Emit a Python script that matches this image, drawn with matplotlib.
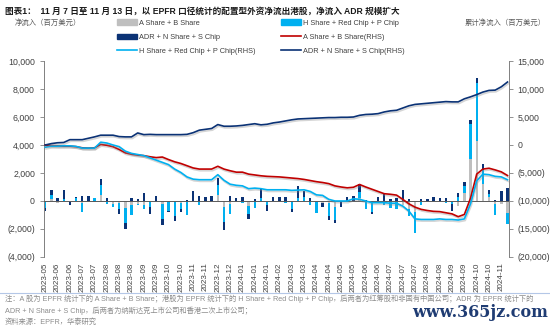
import numpy as np
import matplotlib.pyplot as plt
from matplotlib import patheffects as pe
from matplotlib.patches import Patch
from matplotlib.lines import Line2D

plt.rcParams['font.family'] = ['Liberation Sans', 'Noto Sans CJK SC']

# weekly tick labels (every second week is labelled)
labels = ['2023-05', '2023-06', '2023-06', '2023-07', '2023-07', '2023-08', '2023-08',
          '2023-08', '2023-09', '2023-09', '2023-10', '2023-10', '2023-11', '2023-11',
          '2023-12', '2023-12', '2024-01', '2024-01', '2024-01', '2024-02', '2024-03',
          '2024-03', '2024-04', '2024-04', '2024-05', '2024-05', '2024-06', '2024-06',
          '2024-07', '2024-07', '2024-07', '2024-08', '2024-08', '2024-09', '2024-09',
          '2024-10', '2024-10', '2024-11']

# weekly net flows, USD mn
a_flow = [-50, 150, -150, 0, -50, 0, -150, -50, 0, 450,
          0, -200, -150, -500, -300, -200, -300, -100, 0, -250,
          -100, -100, -150, -100, 0, 0, -50, 0, 450, -450,
          -250, -100, 0, -350, 0, 0, -100, 0, -50, 0,
          -100, 0, -100, 0, -100, -150, -150, -400, 0, 0,
          0, 200, -100, -100, 0, -100, -100, -100, -300, -600,
          -800, -100, -100, 0, -50, 0, -100, -350, 600, 3000,
          4300, 1200, 300, -240, -240, -830]
h_flow = [-450, 250, 0, 150, 0, 200, -650, 0, 200, 700,
          -250, -200, -450, -1100, -700, -100, -300, -350, -100, -1050,
          -600, -1000, -450, -900, 0, -300, 0, 0, 700, -1050,
          -650, 0, -150, -600, -500, 200, -200, 0, 0, -150,
          -500, 200, 300, -300, -750, 0, -900, -950, 0, 0,
          0, 450, -500, -700, 0, -200, -400, -500, 0, -500,
          -1500, -200, 0, 0, 0, -150, -150, 300, 470, 2500,
          4150, 1000, 200, -790, 0, -830]
adr_flow = [-250, 420, 200, 650, -250, 50, 350, 380, -100, 430,
            200, -50, -300, -430, 180, 150, 600, -450, 350, -450,
            -100, -300, -200, 100, 700, 350, 300, 330, 480, -550,
            380, 200, 300, -350, 150, 700, -400, 300, 250, 250,
            -200, 850, 400, 200, 0, -300, -300, -250, -400, 250,
            350, 550, 100, -100, 250, 500, 150, 200, 800, 150,
            0, 150, 150, 300, 200, 200, -500, 300, 290, 300,
            350, 430, 280, 100, 700, 900]

# cumulative net flows, USD mn (RHS)
a_cum = [0, -100, -150, -200, -200, -300, -500, -550, -500, 100,
         -50, -300, -800, -1400, -1650, -1800, -1900, -2100, -2250, -2150,
         -2600, -3000, -3300, -3700, -4100, -4300, -4300, -4300, -3800, -4300,
         -4600, -4850, -4850, -5200, -5350, -5500, -5600, -5650, -5700, -5800,
         -5900, -6000, -6150, -6350, -6550, -6700, -6900, -7300, -7500, -7650,
         -7550, -7050, -7500, -7900, -8300, -8700, -8800, -8950, -9700, -10500,
         -11100, -11500, -11700, -11850, -11900, -12100, -12300, -12800, -12400, -9500,
         -5200, -4300, -4150, -4450, -4800, -5450]
h_cum = [-400, -200, -200, -150, -150, -250, -550, -550, -550, 500,
         350, 0, -300, -1100, -1500, -1700, -1900, -2300, -2700, -3100,
         -3500, -4300, -4900, -5700, -6100, -6200, -6200, -6200, -5300, -6300,
         -7000, -7200, -7300, -7800, -7700, -7800, -8000, -8000, -8000, -8000,
         -8100, -8050, -8000, -8300, -8900, -9000, -9700, -10000, -10000, -10000,
         -9600, -9700, -10000, -10300, -10300, -10300, -10400, -10400, -10900, -11800,
         -13200, -13300, -13300, -13300, -13200, -13300, -13300, -13400, -13200, -10500,
         -6400, -5200, -5300, -5600, -5700, -6200]
adr_cum = [0, 250, 400, 450, 950, 950, 950, 1200, 1450, 1750,
           1750, 1750, 1500, 1450, 1450, 2150, 1850, 1900, 1850, 1850,
           1850, 1850, 1850, 1900, 2200, 2650, 2800, 2950, 3650, 3350,
           3350, 3400, 3500, 3650, 3800, 3600, 3700, 3950, 4100, 4300,
           4500, 4650, 4700, 4750, 4800, 4850, 4900, 4900, 4950, 4950,
           5000, 5300, 5450, 5500, 5600, 5900, 6100, 6200, 6600, 7000,
           7250, 7350, 7450, 7550, 7650, 7750, 7700, 7700, 8250, 8600,
           9000, 9450, 9750, 9800, 10400, 11250]

grey = '#BFBFBF'
cyan = '#00B0F0'
navy = '#0B3275'
red = '#C00000'
txt = '#404040'

fig = plt.figure(figsize=(5.5, 3.28), dpi=100)
ax = fig.add_axes([0.08, 0.2165, 0.845, 0.5975])
ax2 = ax.twinx()

x = np.arange(len(a_flow))
pos_base = np.zeros(len(x))
neg_base = np.zeros(len(x))
for vals, col in [(a_flow, grey), (h_flow, cyan), (adr_flow, navy)]:
    v = np.array(vals, dtype=float)
    base = np.where(v >= 0, pos_base, neg_base)
    ax.bar(x, v, bottom=base, width=0.38, color=col, zorder=2)
    pos_base += np.clip(v, 0, None)
    neg_base += np.clip(v, None, 0)

ax.axhline(0, color='#595959', lw=0.7, zorder=3)

shadow = [pe.SimpleLineShadow(offset=(0.6, -1.2), shadow_color='#888888', alpha=0.35),
          pe.Normal()]
for vals, col in [(a_cum, red), (h_cum, cyan), (adr_cum, navy)]:
    ax2.plot(x, vals, color=col, lw=1.2, path_effects=shadow, zorder=4)

ax.set_xlim(-0.2, 75.2)
ax.set_ylim(-4000, 10000)
ax2.set_ylim(-20000, 15000)
ax.set_yticks(np.arange(-4000, 10001, 2000))
ax2.set_yticks(np.arange(-20000, 15001, 5000))


def fmt(v, pos=None):
    return f'({abs(v):,.0f})' if v < 0 else f'{v:,.0f}'


ax.yaxis.set_major_formatter(plt.FuncFormatter(fmt))
ax2.yaxis.set_major_formatter(plt.FuncFormatter(fmt))

ax.set_xticks(x[::2][:len(labels)])
ax.set_xticklabels(labels, rotation=90, fontsize=5.8, color=txt)
ax.tick_params(axis='x', length=0, pad=4)
ax.tick_params(axis='y', labelsize=6.3, colors=txt, length=3, width=0.6, color='#808080')
ax2.tick_params(axis='y', labelsize=6.3, colors=txt, length=3, width=0.6, color='#808080')

for a in (ax, ax2):
    for s in ('top', 'bottom'):
        a.spines[s].set_visible(False)
    a.spines['left'].set_color('#808080')
    a.spines['right'].set_color('#808080')
    a.spines['left'].set_linewidth(0.7)
    a.spines['right'].set_linewidth(0.7)
ax2.spines['left'].set_visible(False)
ax.spines['right'].set_visible(False)

handles = [Patch(color=grey, label='A Share + B Share'),
           Patch(color=navy, label='ADR + N Share + S Chip'),
           Line2D([], [], color=cyan, lw=1.2, label='H Share + Red Chip + P Chip(RHS)'),
           Patch(color=cyan, label='H Share + Red Chip + P Chip'),
           Line2D([], [], color=red, lw=1.2, label='A Share + B Share(RHS)'),
           Line2D([], [], color=navy, lw=1.2, label='ADR + N Share + S Chip(RHS)')]
fig.legend(handles=handles, ncol=2, loc='upper left', bbox_to_anchor=(0.213, 0.941),
           frameon=False, fontsize=5.3, handlelength=2.75, handleheight=0.75,
           handletextpad=0.25, columnspacing=3.4, labelspacing=0.95, labelcolor=txt,
           borderpad=0, borderaxespad=0)

fig.text(0.009, 0.978, '图表1：  11 月 7 日至 11 月 13 日，以 EPFR 口径统计的配置型外资净流出港股，净流入 ADR 规模扩大',
         fontsize=6.2, fontweight='bold', color='#1a1a1a', va='top')
fig.text(0.027, 0.93, '净流入（百万美元）', fontsize=5.3, color='#595959', va='center')
fig.text(0.993, 0.93, '累计净流入（百万美元）', fontsize=5.3, color='#595959', va='center', ha='right')

fig.add_artist(Line2D([0.0, 1.0], [0.108, 0.108], color='#B4C7E7', lw=0.8))

note = ('注：A 股为 EPFR 统计下的 A Share + B Share；港股为 EPFR 统计下的 H Share + Red Chip + P Chip，'
        '后两者为红筹股和非国有中国公司；ADR 为 EPFR 统计下的')
fig.text(0.009, 0.090, note, fontsize=5.25, color='#8c8c8c', va='center')
fig.text(0.009, 0.053, 'ADR + N Share + S Chip，后两者为纳斯达克上市公司和香港二次上市公司；',
         fontsize=5.25, color='#8c8c8c', va='center')
fig.text(0.009, 0.017, '资料来源：EPFR，华泰研究', fontsize=5.25, color='#8c8c8c', va='center')
fig.text(0.997, 0.048, 'www.365jz.com', fontsize=11.5, fontweight='bold', color='#1F3C73',
         family=['DejaVu Serif'], ha='right', va='center')

fig.savefig('out.png', dpi=100)
